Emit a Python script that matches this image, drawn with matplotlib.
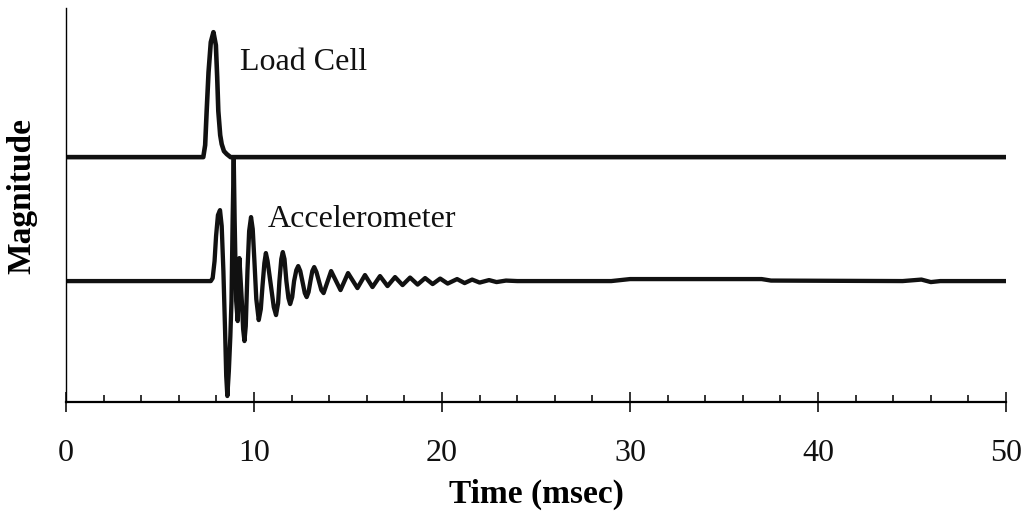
import numpy as np
import matplotlib
matplotlib.use("Agg")
import matplotlib.pyplot as plt

# Load cell trace (time in msec, magnitude above its own baseline)
load_t = [0.0, 7.30, 7.40, 7.48, 7.58, 7.70, 7.84, 7.97, 8.04, 8.10, 8.20, 8.28, 8.40, 8.55, 8.75, 50.0]
load_v = [0.0, 0.00, 0.12, 0.46, 0.85, 1.15, 1.25, 1.12, 0.80, 0.46, 0.22, 0.13, 0.06, 0.03, 0.00, 0.00]

# Accelerometer trace
acc_t = [0.0, 7.70, 7.80, 7.90, 7.98, 8.08, 8.19, 8.28, 8.37, 8.46, 8.52, 8.58, 8.66, 8.74,
         8.80, 8.86, 8.92, 8.97, 9.05, 9.13, 9.22, 9.35, 9.42, 9.49, 9.56, 9.65, 9.74, 9.84,
         9.93, 10.02, 10.12, 10.25, 10.36, 10.45, 10.55, 10.63, 10.72, 10.90, 11.05, 11.17,
         11.28, 11.35, 11.45, 11.53, 11.62, 11.72, 11.83, 11.92, 12.03, 12.13, 12.25, 12.35,
         12.46, 12.57, 12.70, 12.80, 12.90, 13.00, 13.10, 13.20, 13.32, 13.45, 13.58, 13.70,
         14.10, 14.60, 15.00, 15.50, 15.90, 16.30, 16.70, 17.10, 17.50, 17.90, 18.30, 18.70,
         19.10, 19.50, 19.90, 20.30, 20.80, 21.20, 21.60, 22.00, 22.50, 22.90, 23.40, 24.00,
         29.00, 30.00, 37.00, 37.50, 44.50, 45.50, 46.00, 46.50, 50.00]
acc_v = [0.0, 0.00, 0.03, 0.20, 0.45, 0.66, 0.71, 0.55, 0.10, -0.50, -0.95, -1.15, -0.90, -0.55,
         -0.20, 0.60, 1.24, 0.60, -0.20, -0.40, 0.23, -0.20, -0.48, -0.60, -0.45, 0.10, 0.50, 0.64,
         0.52, 0.20, -0.18, -0.39, -0.28, -0.05, 0.18, 0.28, 0.20, -0.05, -0.26, -0.34,
         -0.22, 0.00, 0.22, 0.29, 0.22, 0.00, -0.17, -0.23, -0.16, 0.00, 0.11, 0.15,
         0.10, 0.00, -0.12, -0.16, -0.11, 0.00, 0.10, 0.14, 0.09, 0.00, -0.09, -0.12,
         0.10, -0.09, 0.08, -0.07, 0.06, -0.06, 0.05, -0.05, 0.04, -0.04, 0.035, -0.035,
         0.03, -0.03, 0.025, -0.025, 0.02, -0.02, 0.015, -0.015, 0.01, -0.01, 0.005, 0.0,
         0.0, 0.02, 0.02, 0.005, 0.0, 0.015, -0.01, 0.0, 0.0]

x_ticks = [0, 10, 20, 30, 40, 50]
labels = ["Load Cell", "Accelerometer"]

# vertical offsets of the two traces on the shared axis
load_offset = 2.45
acc_offset = 1.21

plt.rcParams['font.family'] = ['Liberation Serif', 'DejaVu Serif']

fig = plt.figure(figsize=(10.27, 5.12), dpi=100)
ax = fig.add_axes([0.0643, 0.2148, 0.9153, 0.7692])

ax.plot(load_t, np.array(load_v) + load_offset, color='#111111', lw=3.3, solid_joinstyle='round')
ax.plot(acc_t, np.array(acc_v) + acc_offset, color='#111111', lw=3.1, solid_joinstyle='round')

ax.text(9.26, 3.32, labels[0], fontsize=23, va='baseline', ha='left', color='#111111')
ax.text(10.74, 1.75, labels[1], fontsize=23, va='baseline', ha='left', color='#111111')

ax.set_xlim(0, 50)
ax.set_ylim(0, 3.94)
ax.set_yticks([])
ax.set_xticks(x_ticks)
ax.set_xticks(np.arange(0, 51, 2), minor=True)
ax.tick_params(axis='x', which='major', direction='inout', length=15, width=1.2,
               labelsize=23, pad=19, color='#111111', labelcolor='#111111')
ax.tick_params(axis='x', which='minor', direction='in', length=5, width=1.2, color='#111111')

for s in ['top', 'right']:
    ax.spines[s].set_visible(False)
ax.spines['left'].set_linewidth(1.0)
ax.spines['bottom'].set_linewidth(1.6)

ax.set_xlabel('Time (msec)', fontsize=24, fontweight='bold', labelpad=8)
ax.set_ylabel('Magnitude', fontsize=24, fontweight='bold')
ax.yaxis.set_label_coords(-0.030, 0.523)

fig.savefig('out.png', dpi=100)
